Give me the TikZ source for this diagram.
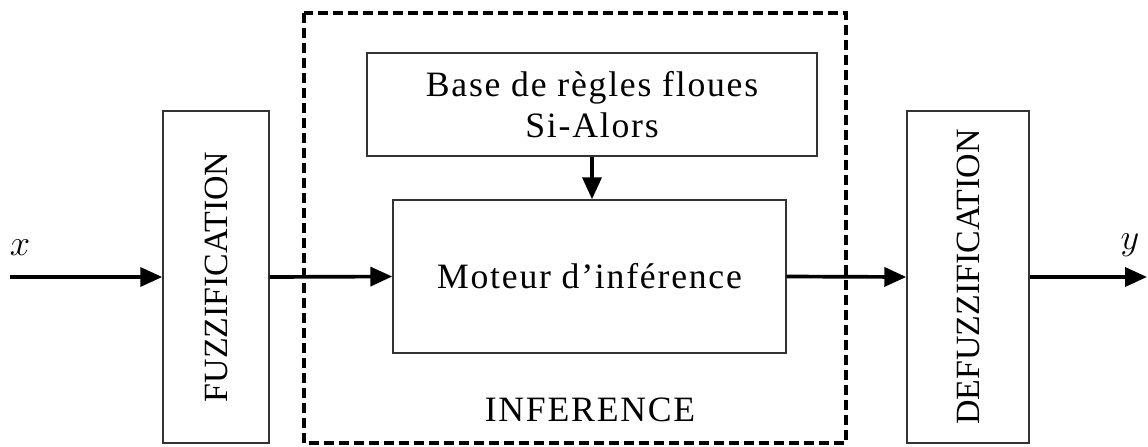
\documentclass[tikz,border=0pt]{standalone}
\usepackage{fontspec}
\setmainfont{Liberation Serif}
\newfontfamily\espace[LetterSpace=5]{Liberation Serif}
\usetikzlibrary{arrows.meta}

\begin{document}
\begin{tikzpicture}[x=0.02cm,y=-0.02cm,
bloc/.style={draw=black!80,line width=0.85pt,inner sep=0pt},
fleche/.style={line width=2.1pt,-{Triangle[length=0.44cm,width=0.38cm]}},
large/.style={font=\espace\fontsize{20.3}{23.3}\selectfont},
font=\fontsize{19.3}{23.3}\selectfont]
\useasboundingbox (0,0) rectangle (1148,446);
\draw[line width=2.2pt,dash pattern=on 0.2cm off 0.1cm] (304,13) rectangle (846,443);
\node[bloc,minimum width=2.12cm,minimum height=6.64cm] (fuzz) at (216,277) {};
\node[rotate=90] (fuzztxt) at (fuzz.center) {FUZZIFICATION};
\node[bloc,minimum width=2.44cm,minimum height=6.64cm] (defuzz) at (968,277) {};
\node[rotate=90] (defuzztxt) at (defuzz.center) {DEFUZZIFICATION};
\node[bloc,minimum width=9cm,minimum height=2.06cm,align=center,large] (base) at (592,104.5) {Base de règles floues\\Si-Alors};
\node[bloc,minimum width=7.86cm,minimum height=3.06cm,large] (moteur) at (589.5,276.5) {Moteur d’inférence};
\node[large] (inf) at (590,410) {INFERENCE};
\coordinate (entree) at (10,277);
\coordinate (sortie) at (1147,277);
\node (xlab) at (20,248) {$x$};
\node (ylab) at (1130,245) {$y$};
\draw[fleche] (entree) -- (fuzz.west);
\draw[fleche] (fuzz.east) -- (moteur.west);
\draw[fleche] (base.south) -- (base.south |- moteur.north);
\draw[fleche] (moteur.east) -- (defuzz.west);
\draw[fleche] (defuzz.east) -- (sortie);
\end{tikzpicture}
\end{document}
